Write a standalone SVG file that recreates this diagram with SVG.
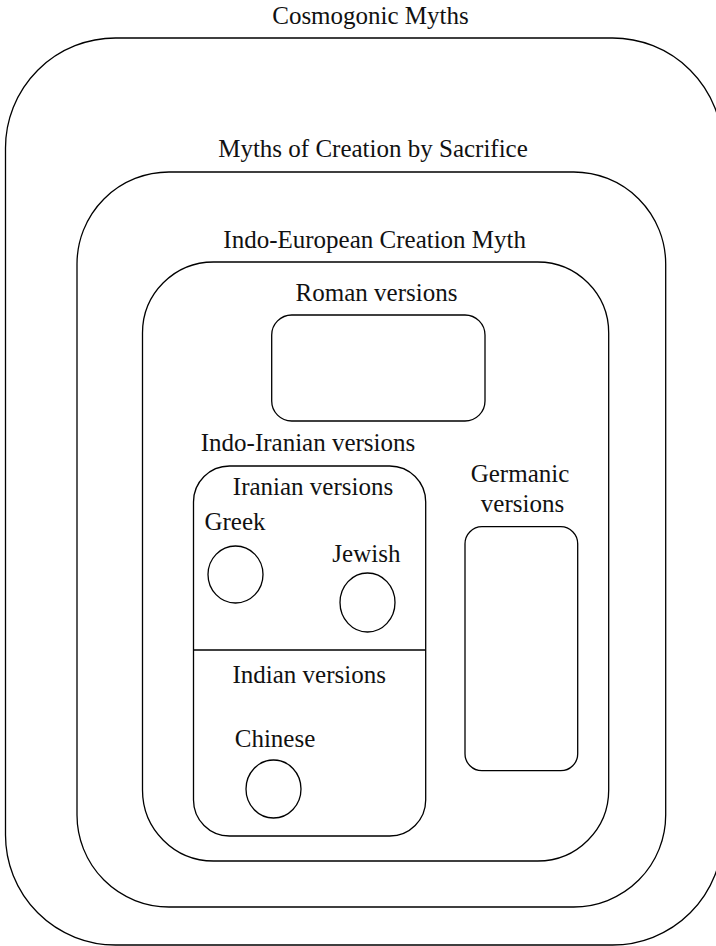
<svg xmlns="http://www.w3.org/2000/svg" width="716" height="946" viewBox="0 0 716 946">
<style>
.box{fill:none;stroke:#000;stroke-width:1.3}
.lbl{font-family:"Liberation Serif","Times New Roman",serif;font-size:25px;fill:#111;text-anchor:middle}
</style>
<rect width="716" height="946" fill="#fff"/>
<g id="cosmogonic">
<rect class="box" x="5.5" y="38" width="717" height="907" rx="110" ry="110"/>
<text class="lbl" x="370.5" y="24">Cosmogonic Myths</text>
</g>
<g id="sacrifice">
<rect class="box" x="77" y="172" width="588.7" height="735" rx="92" ry="92"/>
<text class="lbl" x="373" y="157">Myths of Creation by Sacrifice</text>
</g>
<g id="indo-european">
<rect class="box" x="142.5" y="262" width="466.2" height="599" rx="71" ry="71"/>
<text class="lbl" x="374.7" y="247.5">Indo-European Creation Myth</text>
</g>
<g id="roman">
<rect class="box" x="271.7" y="315" width="213.3" height="106" rx="20" ry="20"/>
<text class="lbl" x="376.5" y="301">Roman versions</text>
</g>
<g id="indo-iranian">
<rect class="box" x="193.5" y="466" width="232.2" height="370" rx="36" ry="36"/>
<line class="box" x1="193.5" y1="650" x2="425.7" y2="650"/>
<text class="lbl" x="308" y="451">Indo-Iranian versions</text>
<text class="lbl" x="313" y="495">Iranian versions</text>
<text class="lbl" x="309.2" y="683.3">Indian versions</text>
</g>
<g id="greek">
<ellipse class="box" cx="235.5" cy="574.5" rx="27.5" ry="28.5"/>
<text class="lbl" x="235" y="530">Greek</text>
</g>
<g id="jewish">
<ellipse class="box" cx="367.5" cy="602.5" rx="27.5" ry="29.5"/>
<text class="lbl" x="366.4" y="561.7">Jewish</text>
</g>
<g id="chinese">
<ellipse class="box" cx="273.5" cy="789" rx="27.5" ry="29"/>
<text class="lbl" x="275" y="746.7">Chinese</text>
</g>
<g id="germanic">
<rect class="box" x="465" y="526.7" width="112.7" height="244" rx="17" ry="17"/>
<text class="lbl" x="520" y="482.3">Germanic</text>
<text class="lbl" x="522.5" y="511.7">versions</text>
</g>
</svg>
